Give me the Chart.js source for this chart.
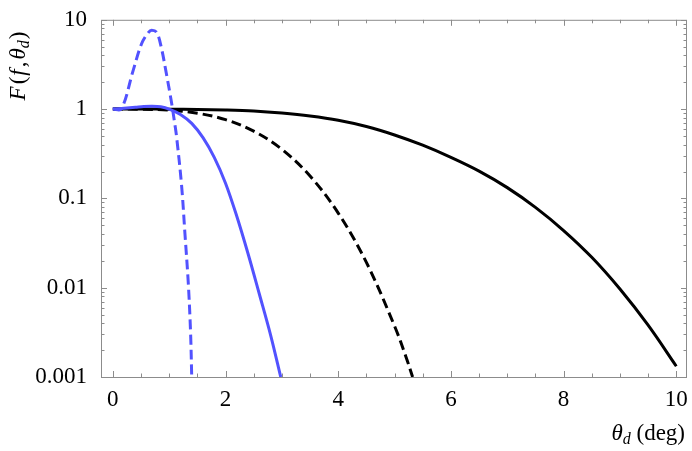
<!DOCTYPE html>
<html>
<head>
<meta charset="utf-8">
<script src="https://cdn.jsdelivr.net/npm/chart.js"></script>
<style>
  html, body { margin: 0; padding: 0; background: #fff; }
</style>
</head>
<body>
<canvas id="chart" width="692" height="451"></canvas>
<script>
// values (theta_d in degrees, F on a log axis)
const blueDashX = [0, 0.15, 0.36, 0.51, 0.63, 0.69, 0.78, 0.86, 0.95, 1.04, 1.10, 1.13, 1.22, 1.28, 1.34, 1.38, 1.40];
const blueDashY = [1, 1, 2.7, 5.4, 7.2, 7.65, 7.2, 4.9, 2.5, 1.2, 0.68, 0.50, 0.14, 0.040, 0.011, 0.0031, 0.001];

const blueSolidX = [0, 0.2, 0.4, 0.55, 0.7, 0.85, 1.0, 1.2, 1.4, 1.6, 1.8, 2.0, 2.2, 2.4, 2.6, 2.8, 2.98];
const blueSolidY = [1, 1.025, 1.05, 1.07, 1.077, 1.06, 1.0, 0.871, 0.692, 0.479, 0.288, 0.148, 0.0631, 0.024, 0.0085, 0.00295, 0.001];

const blackDashX = [0, 0.5, 1, 1.5, 2, 2.5, 3, 3.5, 4, 4.5, 5, 5.2, 5.32];
const blackDashY = [1, 0.997, 0.973, 0.90, 0.762, 0.566, 0.355, 0.178, 0.0685, 0.0192, 0.00372, 0.0017, 0.001];

const blackSolidX = [0, 0.5, 1, 1.5, 2, 2.5, 3, 3.5, 4, 4.5, 5, 5.5, 6, 6.5, 7, 7.5, 8, 8.5, 9, 9.5, 10];
const blackSolidY = [1, 1, 0.998, 0.991, 0.977, 0.951, 0.902, 0.836, 0.750, 0.638, 0.513, 0.394, 0.288, 0.202, 0.132, 0.0794, 0.0437, 0.0219, 0.00966, 0.0038, 0.00132];

const xTicks = [0, 2, 4, 6, 8, 10];
const yTicks = [0.001, 0.01, 0.1, 1, 10];
const yTickLabels = ["0.001", "0.01", "0.1", "1", "10"];

const BLUE = "rgb(82,82,255)";
const FRAME = "#8c8c8c";
const SERIF = "'Liberation Serif', 'DejaVu Serif', serif";

function pts(xs, ys) {
  return xs.map((x, i) => ({ x: x, y: ys[i] }));
}

function line(label, xs, ys, color, dash) {
  return {
    label: label,
    data: pts(xs, ys),
    borderColor: color,
    borderWidth: 3,
    borderDash: dash,
    pointRadius: 0,
    fill: false,
    tension: 0.35,
  };
}

// frame with inward ticks on all four sides, like the original plot
const framePlugin = {
  id: "frame",
  afterDraw(chart) {
    const ctx = chart.ctx;
    const a = chart.chartArea;
    const xs = chart.scales.x;
    const ys = chart.scales.y;
    ctx.save();
    ctx.strokeStyle = FRAME;
    ctx.lineWidth = 1;
    ctx.strokeRect(a.left + 0.5, a.top + 0.5, a.right - a.left - 1, a.bottom - a.top);

    ctx.beginPath();
    for (let v = 0; v <= 10.001; v += 0.5) {
      const px = Math.round(xs.getPixelForValue(v)) + 0.5;
      const len = Math.abs(v / 2 - Math.round(v / 2)) < 1e-6 ? 6 : 3.5;
      ctx.moveTo(px, a.bottom); ctx.lineTo(px, a.bottom - len);
      ctx.moveTo(px, a.top); ctx.lineTo(px, a.top + len);
    }
    for (let e = -3; e <= 0; e++) {
      for (let m = 1; m <= 10; m++) {
        const v = m * Math.pow(10, e);
        const py = Math.round(ys.getPixelForValue(v)) + 0.5;
        const len = (m === 1 || m === 10) ? 6 : 3.5;
        ctx.moveTo(a.left, py); ctx.lineTo(a.left + len, py);
        ctx.moveTo(a.right, py); ctx.lineTo(a.right - len, py);
      }
    }
    ctx.stroke();
    ctx.restore();
  }
};

// axis titles with italic symbols and a subscript d
function drawParts(ctx, parts, x0, y0) {
  let x = x0;
  parts.forEach(p => {
    ctx.font = p.font;
    ctx.fillText(p.t, x, y0 + (p.dy || 0));
    x += ctx.measureText(p.t).width + (p.gap || 0);
  });
  return x - x0;
}

function measureParts(ctx, parts) {
  let w = 0;
  parts.forEach(p => { ctx.font = p.font; w += ctx.measureText(p.t).width + (p.gap || 0); });
  return w;
}

const titlePlugin = {
  id: "titles",
  afterDraw(chart) {
    const ctx = chart.ctx;
    const it = "italic 23px " + SERIF;
    const up = "23px " + SERIF;
    const sub = "italic 16px " + SERIF;
    ctx.save();
    ctx.fillStyle = "#000";
    ctx.textBaseline = "alphabetic";
    ctx.textAlign = "left";

    const xt = [
      { t: "θ", font: it },
      { t: "d", font: sub, dy: 4 },
      { t: " (deg)", font: up },
    ];
    const w = measureParts(ctx, xt);
    drawParts(ctx, xt, 685 - w, 440);

    const yt = [
      { t: "F", font: it, gap: 2 },
      { t: "(", font: up, gap: 1 },
      { t: "f", font: it, gap: 2 },
      { t: ",", font: up, gap: 2 },
      { t: "θ", font: it },
      { t: "d", font: sub, dy: 4, gap: 1 },
      { t: ")", font: up },
    ];
    const h = measureParts(ctx, yt);
    ctx.translate(25, 66 + h / 2);
    ctx.rotate(-Math.PI / 2);
    drawParts(ctx, yt, 0, 0);
    ctx.restore();
  }
};

const ctx = document.getElementById("chart").getContext("2d");
new Chart(ctx, {
  type: "line",
  data: {
    datasets: [
      line("blue dashed", blueDashX, blueDashY, BLUE, [10, 5]),
      line("blue solid", blueSolidX, blueSolidY, BLUE, []),
      line("black dashed", blackDashX, blackDashY, "#000", [10, 5]),
      line("black solid", blackSolidX, blackSolidY, "#000", []),
    ],
  },
  options: {
    responsive: false,
    animation: false,
    layout: { padding: { left: 0, top: 15, right: 5, bottom: 0 } },
    plugins: {
      legend: { display: false },
      tooltip: { enabled: false },
    },
    scales: {
      x: {
        type: "linear",
        min: -0.21,
        max: 10.19,
        grid: { display: false },
        border: { display: false },
        ticks: {
          stepSize: 2,
          includeBounds: false,
          autoSkip: false,
          maxRotation: 0,
          padding: 1,
          color: "#000",
          font: { family: SERIF, size: 23 },
          callback: (v) => xTicks.includes(v) ? String(v) : "",
        },
        afterFit: (scale) => { scale.height = 74; },
      },
      y: {
        type: "logarithmic",
        min: 0.001,
        max: 10,
        grid: { display: false },
        border: { display: false },
        ticks: {
          autoSkip: false,
          padding: 6,
          color: "#000",
          font: { family: SERIF, size: 23 },
          callback: (v) => {
            const i = yTicks.findIndex(t => Math.abs(t - v) / t < 1e-6);
            return i >= 0 ? yTickLabels[i] : "";
          },
        },
        afterFit: (scale) => { scale.width = 101; },
      },
    },
  },
  plugins: [framePlugin, titlePlugin],
});
</script>
</body>
</html>
